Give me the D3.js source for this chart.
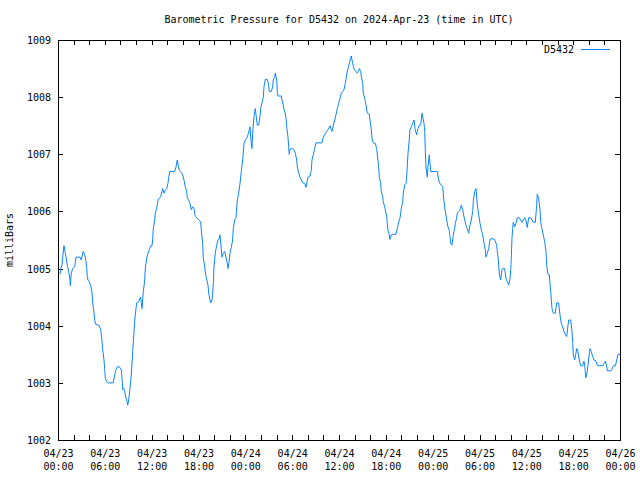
<!DOCTYPE html>
<html>
<head>
<meta charset="utf-8">
<script src="https://cdn.jsdelivr.net/npm/d3@7"></script>
<style>
  html, body { margin: 0; padding: 0; background: #fff; }
  svg { display: block; }
  text { font-family: "DejaVu Sans Mono", "Liberation Mono", monospace; font-size: 10px; fill: #000; }
</style>
</head>
<body>
<svg id="chart" width="640" height="480"></svg>
<script>
// ---- data ----
const titleText = "Barometric Pressure for D5432 on 2024-Apr-23 (time in UTC)";
const seriesName = "D5432";
const yLabel = "milliBars";
const startTime = Date.UTC(2024, 3, 23, 0, 0);
const endTime = Date.UTC(2024, 3, 26, 0, 0);
const yTicks = [1002, 1003, 1004, 1005, 1006, 1007, 1008, 1009];

// hours since 2024-04-23 00:00 UTC
const hours = [
  0.26, 0.35, 0.51, 0.60, 0.77, 0.90, 1.02, 1.19, 1.37, 1.54, 1.58, 1.70, 1.88, 2.14, 2.31, 2.82, 2.98, 3.16, 3.24, 3.42,
  3.59, 3.68, 3.75, 3.84, 4.01, 4.19, 4.36, 4.45, 4.61, 4.78, 5.29, 5.47, 5.55, 5.64, 5.73, 5.89, 5.98, 6.06, 6.24, 6.37,
  7.08, 7.26, 7.43, 7.60, 7.85, 8.11, 8.20, 8.29, 8.42, 8.54, 8.71, 8.80, 8.93, 9.06, 9.22, 9.39, 9.57, 9.74, 9.83, 9.99,
  10.08, 10.34, 10.50, 10.59, 10.67, 10.76, 10.93, 11.11, 11.18, 11.36, 11.53, 11.70, 11.88, 12.04, 12.13, 12.21, 12.39, 12.46, 12.64, 12.81,
  12.98, 13.16, 13.32, 13.41, 13.58, 13.75, 13.93, 14.09, 14.18, 14.35, 14.95, 15.12, 15.28, 15.41, 15.54, 15.80, 15.97, 16.14, 16.31, 16.49,
  16.56, 16.74, 16.91, 17.08, 17.26, 17.42, 17.51, 17.59, 17.85, 18.02, 18.28, 18.36, 18.54, 18.61, 18.79, 18.96, 19.13, 19.22, 19.31, 19.47,
  19.56, 19.73, 19.82, 19.90, 19.98, 20.15, 20.33, 20.50, 20.66, 20.75, 20.92, 21.01, 21.18, 21.36, 21.52, 21.69, 21.78, 21.95, 22.03, 22.20,
  22.37, 22.46, 22.63, 22.80, 22.97, 23.15, 23.32, 23.48, 23.66, 23.83, 24.00, 24.17, 24.34, 24.51, 24.60, 24.72, 24.85, 24.94, 25.11, 25.28,
  25.37, 25.53, 25.71, 25.88, 25.97, 26.13, 26.30, 26.39, 26.56, 26.81, 26.99, 27.07, 27.33, 27.50, 27.58, 27.76, 27.84, 28.02, 28.09, 28.18,
  28.61, 28.70, 28.86, 28.95, 29.12, 29.21, 29.30, 29.46, 29.55, 29.63, 29.72, 29.89, 30.07, 30.23, 30.40, 30.58, 30.66, 30.84, 31.00, 31.17,
  31.35, 31.60, 31.77, 31.94, 32.03, 32.28, 32.45, 32.54, 32.71, 32.88, 33.05, 33.82, 33.99, 34.24, 34.42, 34.59, 34.85, 35.01, 35.10, 35.27,
  35.45, 35.61, 35.78, 35.96, 36.13, 36.29, 36.47, 36.64, 36.81, 36.98, 37.15, 37.32, 37.50, 37.57, 37.75, 37.92, 38.17, 38.34, 38.52, 38.60,
  38.78, 38.86, 39.04, 39.11, 39.29, 39.46, 39.62, 39.88, 39.97, 40.14, 40.23, 40.39, 40.65, 40.83, 40.91, 41.08, 41.16, 41.34, 41.41, 41.60,
  41.67, 41.85, 41.93, 42.11, 42.18, 42.27, 42.44, 42.53, 42.70, 42.95, 43.30, 43.47, 43.65, 43.81, 43.90, 43.98, 44.16, 44.24, 44.41, 44.58,
  44.67, 44.75, 44.84, 45.00, 45.09, 45.26, 45.44, 45.61, 45.70, 45.77, 45.95, 46.03, 46.12, 46.28, 46.46, 46.54, 46.63, 46.80, 46.89, 46.98,
  47.05, 47.14, 47.31, 47.40, 47.57, 47.66, 47.75, 48.59, 48.77, 48.94, 49.10, 49.28, 49.36, 49.45, 49.62, 49.80, 49.96, 50.13, 50.22, 50.31,
  50.47, 50.56, 50.64, 50.82, 50.90, 51.07, 51.15, 51.33, 51.50, 51.67, 51.85, 51.92, 52.10, 52.27, 52.44, 52.61, 52.78, 52.95, 53.13, 53.20,
  53.38, 53.55, 53.72, 53.90, 54.07, 54.24, 54.41, 54.58, 54.74, 54.83, 55.00, 55.18, 55.34, 55.43, 55.85, 56.02, 56.20, 56.28, 56.37, 56.46,
  56.53, 56.71, 56.79, 56.88, 56.97, 57.22, 57.30, 57.39, 57.56, 57.74, 57.91, 58.00, 58.07, 58.16, 58.25, 58.33, 58.51, 58.67, 58.84, 59.10,
  59.27, 59.44, 59.61, 59.79, 59.95, 60.12, 60.30, 60.56, 60.72, 60.89, 61.15, 61.33, 61.40, 61.58, 61.75, 61.84, 62.00, 62.17, 62.35, 62.52,
  62.60, 62.77, 62.94, 63.12, 63.29, 63.46, 63.71, 63.89, 64.14, 64.31, 64.48, 64.66, 64.82, 64.99, 65.17, 65.34, 65.43, 65.68, 65.85, 65.94,
  66.02, 66.19, 66.36, 66.45, 66.61, 66.78, 66.96, 67.22, 67.38, 67.47, 67.55, 67.64, 67.81, 67.90, 68.07, 68.16, 68.32, 68.50, 68.67, 68.93,
  69.09, 69.35, 69.79, 69.96, 70.13, 70.30, 70.38, 70.82, 70.98, 71.15, 71.41, 71.58, 71.75, 72.00
];

// barometric pressure, millibars
const pressure = [
  1004.90, 1005.00, 1005.06, 1005.20, 1005.40, 1005.30, 1005.20, 1005.06, 1004.95, 1004.80, 1004.70, 1004.92, 1005.00, 1005.03, 1005.20, 1005.20, 1005.15, 1005.27, 1005.30, 1005.24,
  1005.12, 1005.00, 1004.86, 1004.80, 1004.77, 1004.70, 1004.57, 1004.40, 1004.22, 1004.03, 1004.00, 1003.93, 1003.84, 1003.72, 1003.58, 1003.40, 1003.25, 1003.08, 1003.02, 1003.00,
  1003.00, 1003.14, 1003.23, 1003.28, 1003.28, 1003.23, 1003.08, 1002.88, 1002.90, 1002.85, 1002.73, 1002.70, 1002.61, 1002.70, 1002.90, 1003.14, 1003.55, 1003.90, 1004.10, 1004.30,
  1004.40, 1004.42, 1004.48, 1004.50, 1004.40, 1004.30, 1004.60, 1004.80, 1005.00, 1005.18, 1005.27, 1005.33, 1005.40, 1005.40, 1005.50, 1005.70, 1005.85, 1005.97, 1006.05, 1006.20,
  1006.23, 1006.26, 1006.35, 1006.40, 1006.32, 1006.37, 1006.40, 1006.49, 1006.60, 1006.70, 1006.70, 1006.78, 1006.90, 1006.80, 1006.72, 1006.68, 1006.64, 1006.55, 1006.43, 1006.35,
  1006.23, 1006.20, 1006.14, 1006.03, 1006.08, 1006.05, 1005.97, 1005.91, 1005.88, 1005.85, 1005.82, 1005.67, 1005.44, 1005.20, 1005.03, 1004.86, 1004.77, 1004.70, 1004.57, 1004.45,
  1004.40, 1004.45, 1004.57, 1004.74, 1005.03, 1005.27, 1005.41, 1005.50, 1005.53, 1005.59, 1005.35, 1005.20, 1005.27, 1005.30, 1005.20, 1005.09, 1005.00, 1005.15, 1005.27, 1005.37,
  1005.50, 1005.70, 1005.85, 1005.88, 1006.20, 1006.32, 1006.49, 1006.70, 1006.90, 1007.19, 1007.25, 1007.28, 1007.34, 1007.43, 1007.48, 1007.25, 1007.10, 1007.37, 1007.66, 1007.80,
  1007.69, 1007.51, 1007.51, 1007.66, 1007.80, 1007.90, 1008.00, 1008.18, 1008.31, 1008.31, 1008.21, 1008.10, 1008.10, 1008.18, 1008.30, 1008.36, 1008.42, 1008.30, 1008.10, 1008.02,
  1008.02, 1007.95, 1007.86, 1007.78, 1007.72, 1007.63, 1007.48, 1007.31, 1007.13, 1007.00, 1007.09, 1007.10, 1007.10, 1007.08, 1007.02, 1006.90, 1006.78, 1006.67, 1006.60, 1006.55,
  1006.50, 1006.49, 1006.42, 1006.55, 1006.60, 1006.62, 1006.72, 1006.90, 1007.00, 1007.10, 1007.20, 1007.20, 1007.30, 1007.36, 1007.40, 1007.43, 1007.50, 1007.43, 1007.40, 1007.50,
  1007.60, 1007.69, 1007.80, 1007.89, 1007.98, 1008.07, 1008.10, 1008.13, 1008.24, 1008.39, 1008.50, 1008.59, 1008.68, 1008.72, 1008.59, 1008.50, 1008.45, 1008.42, 1008.47, 1008.50,
  1008.45, 1008.36, 1008.24, 1008.07, 1007.98, 1007.86, 1007.72, 1007.70, 1007.60, 1007.43, 1007.28, 1007.20, 1007.19, 1007.10, 1006.99, 1006.78, 1006.60, 1006.49, 1006.35, 1006.26,
  1006.17, 1006.08, 1006.03, 1005.91, 1005.79, 1005.67, 1005.59, 1005.51, 1005.59, 1005.60, 1005.60, 1005.70, 1005.82, 1005.88, 1005.97, 1006.05, 1006.17, 1006.32, 1006.46, 1006.49,
  1006.60, 1006.80, 1007.02, 1007.25, 1007.43, 1007.48, 1007.54, 1007.60, 1007.51, 1007.43, 1007.34, 1007.40, 1007.45, 1007.51, 1007.51, 1007.60, 1007.72, 1007.60, 1007.54, 1007.40,
  1007.08, 1006.78, 1006.60, 1006.78, 1006.99, 1006.84, 1006.70, 1006.70, 1006.55, 1006.49, 1006.46, 1006.43, 1006.32, 1006.17, 1006.00, 1005.85, 1005.73, 1005.67, 1005.56, 1005.44,
  1005.41, 1005.50, 1005.59, 1005.70, 1005.79, 1005.88, 1005.97, 1006.00, 1006.03, 1006.11, 1006.03, 1005.97, 1005.85, 1005.76, 1005.70, 1005.62, 1005.76, 1005.85, 1006.00, 1006.17,
  1006.35, 1006.40, 1006.11, 1005.94, 1005.79, 1005.67, 1005.59, 1005.44, 1005.33, 1005.20, 1005.27, 1005.35, 1005.50, 1005.52, 1005.52, 1005.48, 1005.41, 1005.30, 1005.20, 1005.06,
  1004.92, 1004.80, 1004.89, 1004.98, 1005.00, 1005.00, 1004.92, 1004.83, 1004.77, 1004.71, 1004.83, 1004.98, 1005.18, 1005.53, 1005.70, 1005.81, 1005.73, 1005.79, 1005.89, 1005.89,
  1005.85, 1005.81, 1005.85, 1005.89, 1005.85, 1005.72, 1005.89, 1005.89, 1005.85, 1005.81, 1005.81, 1006.11, 1006.30, 1006.23, 1006.03, 1005.82, 1005.70, 1005.59, 1005.47, 1005.30,
  1005.06, 1004.90, 1004.89, 1004.60, 1004.30, 1004.22, 1004.22, 1004.40, 1004.40, 1004.19, 1004.04, 1003.98, 1003.90, 1003.85, 1003.81, 1004.01, 1004.10, 1004.10, 1003.90, 1003.69,
  1003.49, 1003.40, 1003.52, 1003.60, 1003.55, 1003.40, 1003.30, 1003.30, 1003.38, 1003.31, 1003.20, 1003.09, 1003.20, 1003.31, 1003.52, 1003.60, 1003.55, 1003.46, 1003.40, 1003.38,
  1003.31, 1003.30, 1003.30, 1003.34, 1003.38, 1003.28, 1003.21, 1003.21, 1003.24, 1003.30, 1003.30, 1003.40, 1003.50, 1003.50
];

// ---- layout ----
const plot = { left: 58, right: 620, top: 40, bottom: 440 };
const svg = d3.select("#chart");

const x = d3.scaleUtc().domain([new Date(startTime), new Date(endTime)]).range([plot.left, plot.right]);
const y = d3.scaleLinear().domain([1002, 1009]).range([plot.bottom, plot.top]);

const data = hours.map((h, i) => ({ t: new Date(startTime + h * 3600e3), v: pressure[i] }));

const tickTimes = d3.utcHour.every(2).range(new Date(startTime), new Date(endTime + 1));
const fmtDate = d3.utcFormat("%m/%d");
const fmtTime = d3.utcFormat("%H:%M");

// title
svg.append("text")
  .attr("x", (plot.left + plot.right) / 2)
  .attr("y", 23)
  .attr("text-anchor", "middle")
  .text(titleText);

// y label
svg.append("text")
  .attr("transform", `translate(13,${(plot.top + plot.bottom) / 2}) rotate(-90)`)
  .attr("text-anchor", "middle")
  .text(yLabel);

// axes (inward ticks)
const gLeft = svg.append("g").attr("transform", `translate(${plot.left},0)`)
  .call(d3.axisLeft(y).tickValues(yTicks).tickSize(-5).tickPadding(7).tickFormat(d3.format("d")));
const gRight = svg.append("g").attr("transform", `translate(${plot.right},0)`)
  .call(d3.axisRight(y).tickValues(yTicks).tickSize(-5).tickFormat(""));
const gTop = svg.append("g").attr("transform", `translate(0,${plot.top})`)
  .call(d3.axisTop(x).tickValues(tickTimes).tickSize(-5).tickFormat(""));
const gBottom = svg.append("g").attr("transform", `translate(0,${plot.bottom})`)
  .call(d3.axisBottom(x).tickValues(tickTimes).tickSize(-5).tickPadding(4).tickFormat(""));

[gLeft, gRight, gTop, gBottom].forEach(g => {
  g.select(".domain").remove();
  g.selectAll(".tick line").attr("stroke", "#000").attr("shape-rendering", "crispEdges");
  g.selectAll("text").attr("font-family", null).attr("font-size", null).attr("fill", "#000");
});
gLeft.selectAll(".tick text").attr("dy", "0.35em");

// two-line x tick labels on 6h ticks
gBottom.selectAll(".tick").filter(d => d.getUTCHours() % 6 === 0)
  .each(function(d) {
    const t = d3.select(this).select("text").attr("y", 0).attr("dy", null);
    t.append("tspan").attr("x", 0).attr("y", 17).text(fmtDate(d));
    t.append("tspan").attr("x", 0).attr("y", 30).text(fmtTime(d));
  });

// border
svg.append("rect")
  .attr("x", plot.left + 0.5).attr("y", plot.top + 0.5)
  .attr("width", plot.right - plot.left).attr("height", plot.bottom - plot.top)
  .attr("fill", "none").attr("stroke", "#000").attr("stroke-width", 1)
  .attr("shape-rendering", "crispEdges");

// series line
const line = d3.line().x(d => x(d.t)).y(d => y(d.v));
svg.append("path")
  .datum(data)
  .attr("fill", "none")
  .attr("stroke", "#0a84ff")
  .attr("stroke-width", 1)
  .attr("d", line);

// legend
svg.append("text")
  .attr("x", 574).attr("y", 53)
  .attr("text-anchor", "end")
  .text(seriesName);
svg.append("line")
  .attr("x1", 581).attr("x2", 610)
  .attr("y1", 49.5).attr("y2", 49.5)
  .attr("stroke", "#0a84ff").attr("stroke-width", 1);
</script>
</body>
</html>
